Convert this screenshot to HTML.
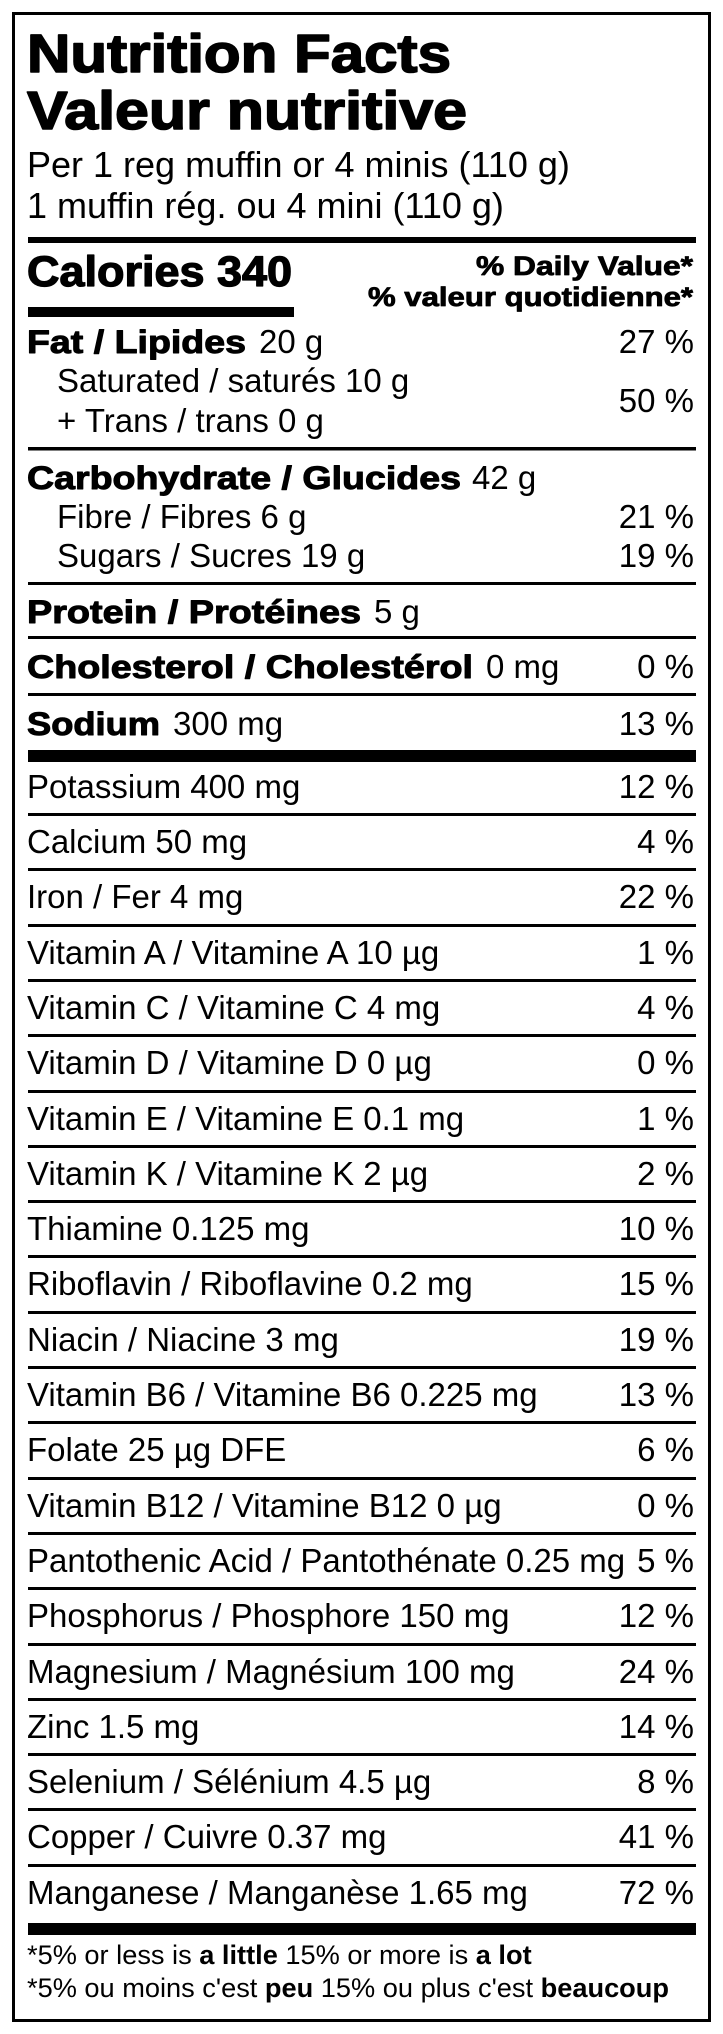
<!DOCTYPE html>
<html>
<head>
<meta charset="utf-8">
<style>
html,body{margin:0;padding:0;background:#fff;}
svg{display:block;}
text{font-family:"Liberation Sans",Arial,sans-serif;fill:#000;}
.b{font-weight:bold;stroke:#000;stroke-linejoin:round;}
.r{font-size:33px;}
.p{font-size:33px;text-anchor:end;}
</style>
</head>
<body>
<svg width="723" height="2034" viewBox="0 0 723 2034" xmlns="http://www.w3.org/2000/svg">
<rect x="0" y="0" width="723" height="2034" fill="#fff"/>
<rect x="13.5" y="13.5" width="696" height="2007" fill="none" stroke="#000" stroke-width="3"/>

<!-- Title -->
<text class="b" x="27" y="72" font-size="54" stroke-width="1.6" textLength="424" lengthAdjust="spacingAndGlyphs">Nutrition Facts</text>
<text class="b" x="27" y="129" font-size="54" stroke-width="1.6" textLength="440" lengthAdjust="spacingAndGlyphs">Valeur nutritive</text>

<text x="27" y="177" font-size="36">Per 1 reg muffin or 4 minis (110 g)</text>
<text x="27" y="218" font-size="36">1 muffin rég. ou 4 mini (110 g)</text>

<rect x="28" y="237" width="668" height="6" fill="#000"/>

<text class="b" x="27" y="286" font-size="43" stroke-width="1.3" textLength="265" lengthAdjust="spacingAndGlyphs">Calories 340</text>
<text class="b" x="476" y="275" font-size="26.5" stroke-width="0.8" textLength="217" lengthAdjust="spacingAndGlyphs">% Daily Value*</text>
<text class="b" x="368" y="306" font-size="26.5" stroke-width="0.8" textLength="325" lengthAdjust="spacingAndGlyphs">% valeur quotidienne*</text>

<rect x="28" y="307" width="266" height="10" fill="#000"/>

<!-- Fat -->
<text class="b" x="27" y="353" font-size="32.5" stroke-width="1" textLength="219" lengthAdjust="spacingAndGlyphs">Fat / Lipides</text>
<text class="r" x="259" y="353">20 g</text>
<text class="p" x="694" y="353">27 %</text>
<text class="r" x="57" y="392">Saturated / saturés 10 g</text>
<text class="r" x="57" y="432">+ Trans / trans 0 g</text>
<text class="p" x="694" y="412">50 %</text>

<rect x="28" y="447" width="668" height="3.5" fill="#000"/>

<!-- Carbohydrate -->
<text class="b" x="27" y="489" font-size="32.5" stroke-width="1" textLength="434" lengthAdjust="spacingAndGlyphs">Carbohydrate / Glucides</text>
<text class="r" x="472" y="489">42 g</text>
<text class="r" x="57" y="528">Fibre / Fibres 6 g</text>
<text class="p" x="694" y="528">21 %</text>
<text class="r" x="57" y="567">Sugars / Sucres 19 g</text>
<text class="p" x="694" y="567">19 %</text>

<rect x="28" y="582" width="668" height="3" fill="#000"/>

<text class="b" x="27" y="623" font-size="32.5" stroke-width="1" textLength="334" lengthAdjust="spacingAndGlyphs">Protein / Protéines</text>
<text class="r" x="374" y="623">5 g</text>

<rect x="28" y="636" width="668" height="3" fill="#000"/>

<text class="b" x="27" y="678" font-size="32.5" stroke-width="1" textLength="446" lengthAdjust="spacingAndGlyphs">Cholesterol / Cholestérol</text>
<text class="r" x="486" y="678">0 mg</text>
<text class="p" x="694" y="678">0 %</text>

<rect x="28" y="693" width="668" height="3" fill="#000"/>

<text class="b" x="27" y="735" font-size="32.5" stroke-width="1" textLength="133" lengthAdjust="spacingAndGlyphs">Sodium</text>
<text class="r" x="173" y="735">300 mg</text>
<text class="p" x="694" y="735">13 %</text>

<rect x="28" y="750" width="668" height="12" fill="#000"/>

<text class="r" x="27" y="798">Potassium 400 mg</text>
<text class="p" x="694" y="798">12 %</text>

<!-- row rules -->
<g fill="#000">
<rect x="28" y="813" width="668" height="3"/>
<rect x="28" y="868" width="668" height="3"/>
<rect x="28" y="924" width="668" height="3"/>
<rect x="28" y="979" width="668" height="3"/>
<rect x="28" y="1034" width="668" height="3"/>
<rect x="28" y="1090" width="668" height="3"/>
<rect x="28" y="1145" width="668" height="3"/>
<rect x="28" y="1200" width="668" height="3"/>
<rect x="28" y="1255" width="668" height="3"/>
<rect x="28" y="1311" width="668" height="3"/>
<rect x="28" y="1366" width="668" height="3"/>
<rect x="28" y="1421" width="668" height="3"/>
<rect x="28" y="1477" width="668" height="3"/>
<rect x="28" y="1532" width="668" height="3"/>
<rect x="28" y="1587" width="668" height="3"/>
<rect x="28" y="1643" width="668" height="3"/>
<rect x="28" y="1698" width="668" height="3"/>
<rect x="28" y="1753" width="668" height="3"/>
<rect x="28" y="1808" width="668" height="3"/>
<rect x="28" y="1864" width="668" height="3"/>
</g>

<text class="r" x="27" y="853">Calcium 50 mg</text><text class="p" x="694" y="853">4 %</text>
<text class="r" x="27" y="908">Iron / Fer 4 mg</text><text class="p" x="694" y="908">22 %</text>
<text class="r" x="27" y="964">Vitamin A / Vitamine A 10 µg</text><text class="p" x="694" y="964">1 %</text>
<text class="r" x="27" y="1019">Vitamin C / Vitamine C 4 mg</text><text class="p" x="694" y="1019">4 %</text>
<text class="r" x="27" y="1074">Vitamin D / Vitamine D 0 µg</text><text class="p" x="694" y="1074">0 %</text>
<text class="r" x="27" y="1130">Vitamin E / Vitamine E 0.1 mg</text><text class="p" x="694" y="1130">1 %</text>
<text class="r" x="27" y="1185">Vitamin K / Vitamine K 2 µg</text><text class="p" x="694" y="1185">2 %</text>
<text class="r" x="27" y="1240">Thiamine 0.125 mg</text><text class="p" x="694" y="1240">10 %</text>
<text class="r" x="27" y="1295">Riboflavin / Riboflavine 0.2 mg</text><text class="p" x="694" y="1295">15 %</text>
<text class="r" x="27" y="1351">Niacin / Niacine 3 mg</text><text class="p" x="694" y="1351">19 %</text>
<text class="r" x="27" y="1406">Vitamin B6 / Vitamine B6 0.225 mg</text><text class="p" x="694" y="1406">13 %</text>
<text class="r" x="27" y="1461">Folate 25 µg DFE</text><text class="p" x="694" y="1461">6 %</text>
<text class="r" x="27" y="1517">Vitamin B12 / Vitamine B12 0 µg</text><text class="p" x="694" y="1517">0 %</text>
<text class="r" x="27" y="1572">Pantothenic Acid / Pantothénate 0.25 mg</text><text class="p" x="694" y="1572">5 %</text>
<text class="r" x="27" y="1627">Phosphorus / Phosphore 150 mg</text><text class="p" x="694" y="1627">12 %</text>
<text class="r" x="27" y="1683">Magnesium / Magnésium 100 mg</text><text class="p" x="694" y="1683">24 %</text>
<text class="r" x="27" y="1738">Zinc 1.5 mg</text><text class="p" x="694" y="1738">14 %</text>
<text class="r" x="27" y="1793">Selenium / Sélénium 4.5 µg</text><text class="p" x="694" y="1793">8 %</text>
<text class="r" x="27" y="1848">Copper / Cuivre 0.37 mg</text><text class="p" x="694" y="1848">41 %</text>
<text class="r" x="27" y="1904">Manganese / Manganèse 1.65 mg</text><text class="p" x="694" y="1904">72 %</text>

<rect x="28" y="1923" width="668" height="12" fill="#000"/>

<text x="27" y="1964" font-size="27.2">*5% or less is <tspan font-weight="bold">a little</tspan> 15% or more is <tspan font-weight="bold">a lot</tspan></text>
<text x="27" y="1997" font-size="27.2">*5% ou moins c'est <tspan font-weight="bold">peu</tspan> 15% ou plus c'est <tspan font-weight="bold">beaucoup</tspan></text>
</svg>
</body>
</html>
